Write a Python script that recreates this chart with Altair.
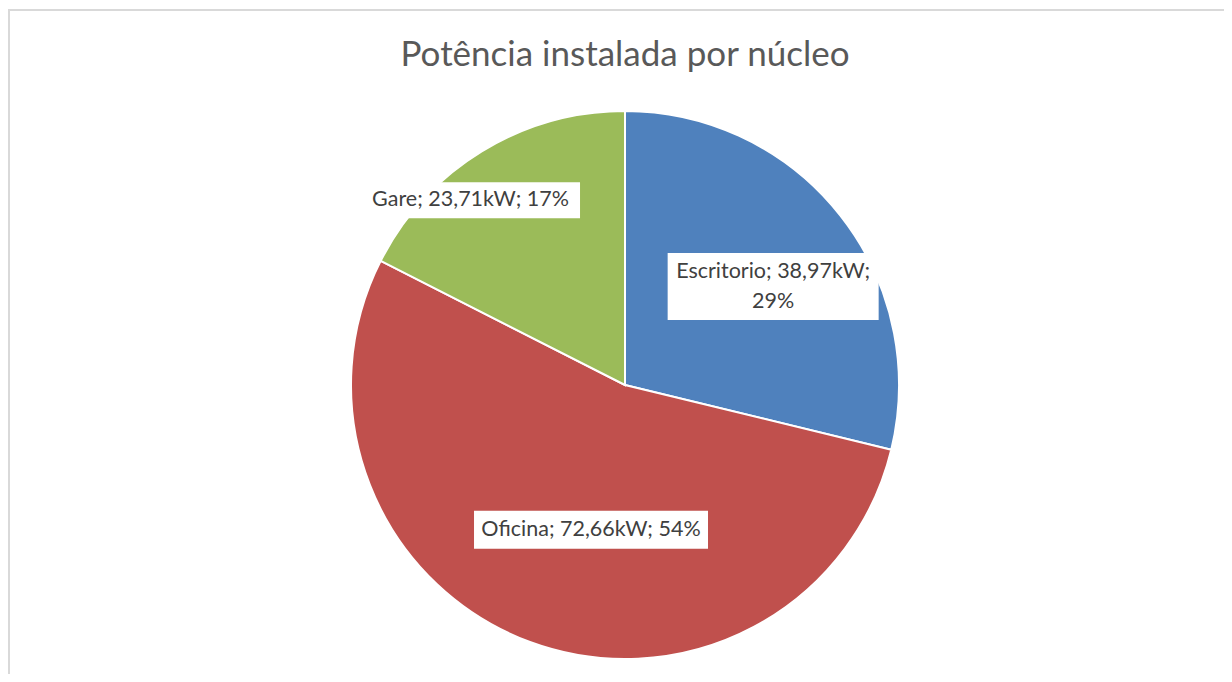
import altair as alt
import pandas as pd

# ---- data ----
categories = ["Escritorio", "Oficina", "Gare"]
power_kw = [38.97, 72.66, 23.71]
percent_labels = [29, 54, 17]
title_text = "Potência instalada por núcleo"
colors = ["#4F81BD", "#C0504D", "#9BBB59"]

# ---- layout (styles / sizes, not data) ----
W, H = 1216, 666
CX, CY, R = 617, 377, 274
label_radius = {"Escritorio": 177, "Oficina": 147, "Gare": 238}
label_nudge = {"Escritorio": (9, 11), "Oficina": (17, 7), "Gare": (-30, 18)}
box_size = {"Escritorio": (211, 67), "Oficina": (234, 38), "Gare": (219, 36)}
wrap = {"Escritorio": True}
LINE_H = 30


def fmt(v):
    return f"{v:.2f}".replace(".", ",")


rows = []
for i, (c, v, p) in enumerate(zip(categories, power_kw, percent_labels)):
    sep = "\n" if wrap.get(c) else " "
    rows.append(dict(idx=i, cat=c, value=v,
                     label=f"{c}; {fmt(v)}kW;{sep}{p}%",
                     nl=2 if wrap.get(c) else 1,
                     lr=label_radius[c], ndx=label_nudge[c][0], ndy=label_nudge[c][1],
                     bw=box_size[c][0], bh=box_size[c][1]))
df = pd.DataFrame(rows)
one = pd.DataFrame({"a": [0]})

pie = alt.Chart(df).mark_arc(radius=R, stroke="white", strokeWidth=2).encode(
    theta=alt.Theta("value:Q", stack=True),
    color=alt.Color("cat:N", scale=alt.Scale(domain=categories, range=colors), legend=None),
    order=alt.Order("idx:Q"),
    x=alt.value(CX),
    y=alt.value(CY),
)

lab = (
    alt.Chart(df)
    .transform_window(cum="sum(value)", sort=[alt.SortField("idx", order="ascending")], frame=[None, 0])
    .transform_joinaggregate(total="sum(value)")
    .transform_calculate(
        mid="(datum.cum - datum.value / 2) / datum.total * 2 * PI",
    )
    .transform_calculate(
        lx=f"{CX} + datum.lr * sin(datum.mid) + datum.ndx",
        ly=f"{CY} - datum.lr * cos(datum.mid) + datum.ndy",
    )
    .transform_calculate(
        bx1="datum.lx - datum.bw / 2",
        bx2="datum.lx + datum.bw / 2",
        by1="datum.ly - datum.bh / 2",
        by2="datum.ly + datum.bh / 2",
        ty=f"datum.ly - (datum.nl - 1) * {LINE_H} / 2",
    )
)

boxes = lab.mark_rect(fill="white").encode(
    x=alt.X("bx1:Q", scale=None, axis=None),
    x2="bx2:Q",
    y=alt.Y("by1:Q", scale=None, axis=None),
    y2="by2:Q",
)

texts = lab.mark_text(
    font="Lato", fontSize=21.5, color="#404040", lineBreak="\n", lineHeight=LINE_H,
    align="center", baseline="middle",
).encode(
    x=alt.X("lx:Q", scale=None, axis=None),
    y=alt.Y("ty:Q", scale=None, axis=None),
    text="label:N",
)

top_border = alt.Chart(one).mark_rule(color="#d9d9d9", strokeWidth=2).encode(
    x=alt.value(0), x2=alt.value(W), y=alt.value(2)
)
left_border = alt.Chart(one).mark_rule(color="#d9d9d9", strokeWidth=2).encode(
    x=alt.value(1), y=alt.value(1), y2=alt.value(H)
)

title = alt.Chart(one).mark_text(
    font="Lato", fontSize=35, color="#595959", align="center", baseline="alphabetic"
).encode(x=alt.value(CX), y=alt.value(58), text=alt.value(title_text))

chart = alt.layer(top_border, left_border, pie, boxes, texts, title).properties(
    width=W, height=H, autosize="none", padding=0
).configure_view(stroke=None)

chart.save("out.html", embed_options={"renderer": "svg", "actions": False})
